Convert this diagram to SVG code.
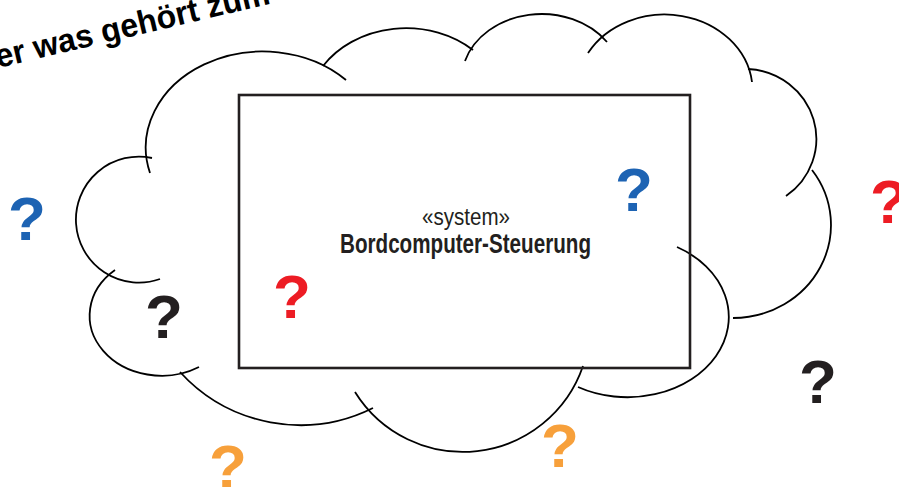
<svg xmlns="http://www.w3.org/2000/svg" width="899" height="487" viewBox="0 0 899 487">
  <style>
    .arc { fill: none; stroke: #000000; stroke-width: 1.8; stroke-linecap: butt; }
    .box { fill: none; stroke: #231f20; stroke-width: 2.6; }
    .q { font-family: "Liberation Sans", Arial, sans-serif; font-weight: bold; font-size: 62px; text-anchor: middle; }
    .blue { fill: #1d63b3; }
    .red { fill: #ed1c24; }
    .black { fill: #231f20; }
    .orange { fill: #f7a03b; }
    .stereo { font-family: "Liberation Sans", Arial, sans-serif; font-size: 23px; fill: #231f20; text-anchor: middle; }
    .name { font-family: "Liberation Sans", Arial, sans-serif; font-weight: bold; font-size: 27px; fill: #231f20; text-anchor: middle; }
    .title { font-family: "Liberation Sans", Arial, sans-serif; font-weight: bold; font-size: 33px; fill: #000000; }
  </style>
  <rect x="0" y="0" width="899" height="487" fill="#ffffff"/>

  <g id="title">
    <text class="title" x="-2" y="68" transform="rotate(-13.3 -2 68)" textLength="281" lengthAdjust="spacingAndGlyphs">er was gehört zum</text>
  </g>

  <g id="cloud">
    <path class="arc" d="M150,173 A117,96 0 0,1 346,80"/>
    <path class="arc" d="M323,66 A99,83 0 0,1 473,50"/>
    <path class="arc" d="M465,61 A80,66 0 0,1 607,42"/>
    <path class="arc" d="M752,82 A88,76 0 0,0 588,53"/>
    <path class="arc" d="M786,196 A72,70 0 0,0 748,69"/>
    <path class="arc" d="M733,318 A98,93 0 0,0 812,170"/>
    <path class="arc" d="M578,387 A101,80 0 1,0 677,247"/>
    <path class="arc" d="M355,392 A127,127 0 0,0 583,366"/>
    <path class="arc" d="M180,372 A163,163 0 0,0 373,408"/>
    <path class="arc" d="M115,270 A72,60 0 0,0 199,367"/>
    <path class="arc" d="M152,158 A63,63 0 1,0 160,279"/>
  </g>

  <g id="system">
    <rect class="box" x="239" y="95" width="451" height="273"/>
    <text class="stereo" x="466" y="225" textLength="88" lengthAdjust="spacingAndGlyphs">«system»</text>
    <text class="name" x="465.5" y="252.5" textLength="251" lengthAdjust="spacingAndGlyphs">Bordcomputer-Steuerung</text>
  </g>

  <g id="questions">
    <text class="q blue" x="634" y="211">?</text>
    <text class="q red" x="292" y="318">?</text>
    <text class="q blue" x="27" y="240">?</text>
    <text class="q red" x="889" y="223">?</text>
    <text class="q black" x="164" y="338">?</text>
    <text class="q black" x="818" y="403">?</text>
    <text class="q orange" x="228" y="488">?</text>
    <text class="q orange" x="560" y="467">?</text>
  </g>
</svg>
